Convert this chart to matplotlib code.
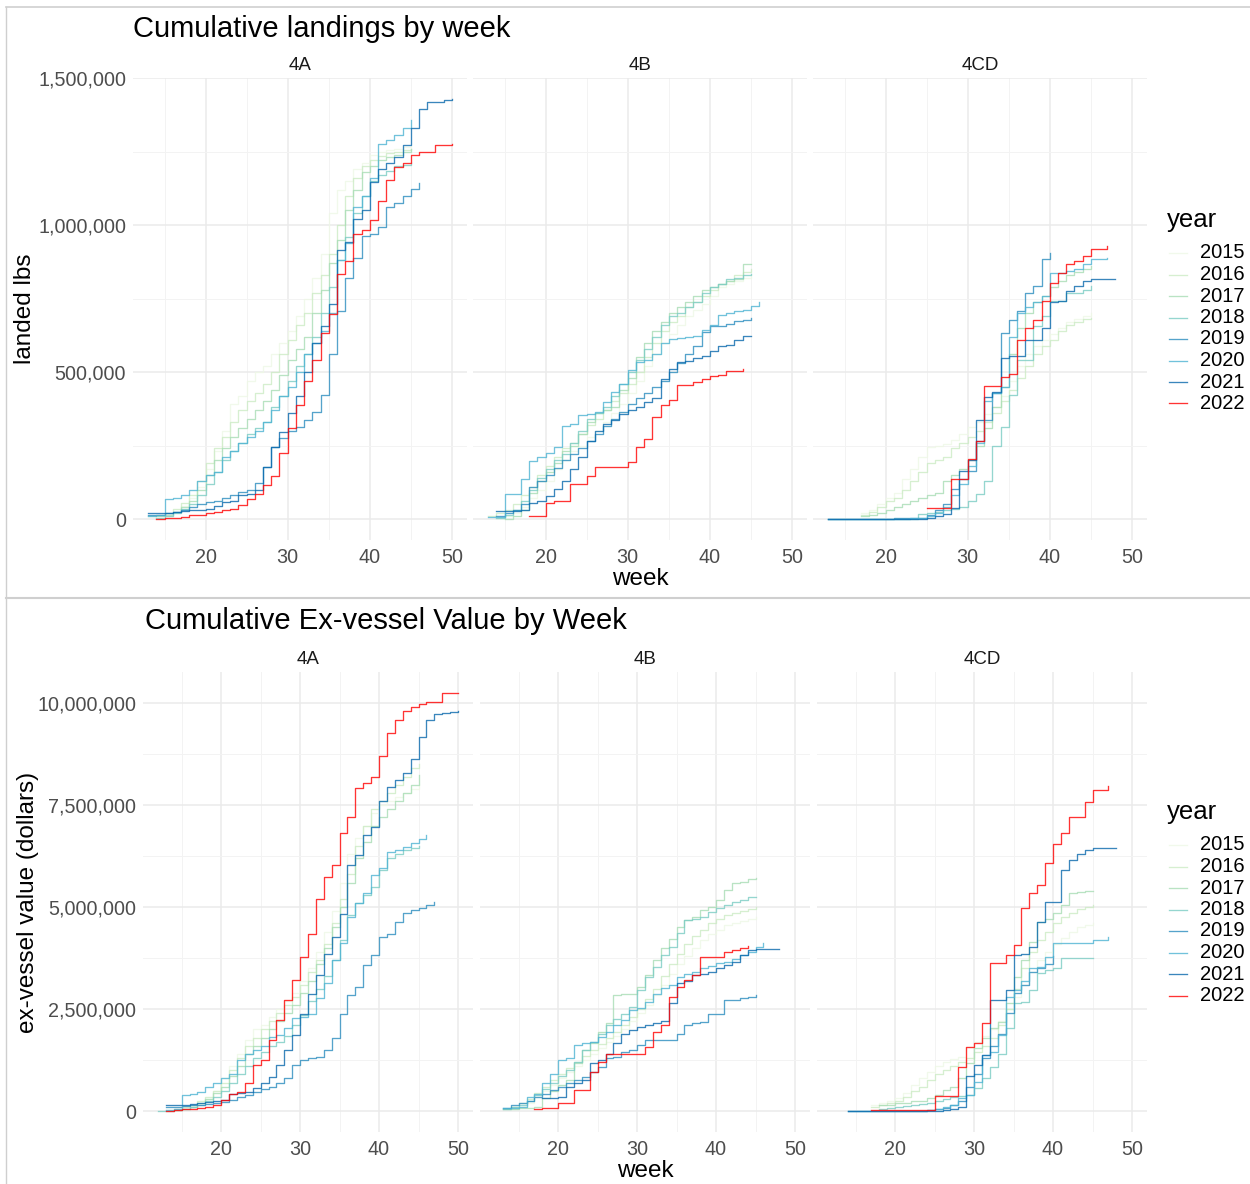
import numpy as np
import matplotlib
matplotlib.use("Agg")
import matplotlib.pyplot as plt
from matplotlib.ticker import FuncFormatter, MultipleLocator
from matplotlib.lines import Line2D

plt.rcParams['font.family'] = ['Liberation Sans', 'DejaVu Sans']

W, H = 1250, 1184

years = [2015, 2016, 2017, 2018, 2019, 2020, 2021, 2022]
year_colors = ['#eef8e6', '#ccebc5', '#a8ddb5', '#7bccc4',
               '#2b8cbe', '#4eb3d3', '#0868ac', '#ff0000']
regions = ["4A", "4B", "4CD"]

# ----------------------------------------------------------------
# Cumulative landings (thousand lbs) -> {year: (first week, weekly values)}
# ----------------------------------------------------------------
lbs_4A = {
    2015: (14, [5, 10, 25, 45, 70, 110, 170, 230, 300, 390, 420, 470, 500, 520, 560, 600, 640, 690, 750, 820,
                900, 1040, 1120, 1150, 1190, 1210, 1240, 1250, 1255, 1260, 1265, 1270]),
    2016: (13, [10, 15, 20, 35, 55, 80, 130, 190, 240, 280, 330, 370, 400, 430, 460, 500, 560, 610, 660, 700,
                770, 830, 900, 1000, 1100, 1160, 1200, 1220, 1235, 1245, 1250, 1255, 1260]),
    2017: (14, [10, 15, 25, 40, 60, 100, 150, 200, 240, 280, 310, 340, 370, 400, 440, 490, 540, 580, 620, 700,
                780, 870, 950, 1050, 1120, 1180, 1200, 1220, 1230, 1240, 1250, 1260]),
    2018: (14, [5, 10, 20, 35, 50, 80, 120, 160, 200, 230, 260, 290, 310, 330, 380, 420, 470, 520, 560, 620,
                700, 790, 880, 960, 1040, 1100, 1150, 1170, 1185, 1200, 1205, 1210]),
    2019: (13, [15, 15, 20, 25, 30, 40, 50, 57, 60, 70, 80, 91, 97, 123, 177, 245, 274, 299, 314, 337,
                365, 422, 562, 708, 820, 887, 964, 968, 993, 1062, 1075, 1098, 1124, 1142]),
    2020: (13, [10, 15, 68, 70, 80, 100, 130, 150, 160, 210, 230, 260, 280, 300, 330, 370, 420, 450, 500, 560,
                600, 640, 700, 880, 940, 1060, 1100, 1160, 1276, 1290, 1307, 1330, 1358]),
    2021: (13, [20, 20, 22, 25, 28, 30, 32, 34, 45, 57, 60, 80, 85, 97, 177, 245, 297, 360, 420, 500,
                600, 656, 730, 915, 944, 1022, 1050, 1146, 1190, 1210, 1230, 1273, 1332, 1395, 1419, 1420,
                1425, 1429]),
    2022: (14, [0, 2, 5, 8, 12, 15, 20, 25, 30, 34, 46, 68, 86, 114, 148, 223, 308, 388, 468, 542,
                634, 699, 833, 879, 970, 982, 1016, 1081, 1153, 1198, 1210, 1238, 1250, 1250, 1273, 1273, 1275]),
}
lbs_4B = {
    2015: (14, [5, 10, 20, 40, 70, 100, 130, 170, 200, 230, 250, 280, 300, 330, 360, 390, 430, 470, 520, 560,
                600, 630, 660, 690, 710, 730, 760, 790, 800, 810, 820, 830]),
    2016: (13, [10, 20, 30, 50, 80, 110, 150, 180, 210, 240, 260, 290, 320, 340, 370, 400, 430, 460, 500, 550,
                600, 640, 670, 690, 720, 740, 760, 780, 800, 810, 830, 840, 850]),
    2017: (15, [0, 10, 30, 90, 130, 160, 190, 230, 250, 290, 330, 360, 370, 380, 440, 480, 550, 600, 640, 670,
                700, 720, 740, 760, 780, 790, 800, 810, 815, 866, 866]),
    2018: (14, [5, 15, 30, 60, 100, 140, 170, 200, 220, 260, 300, 340, 360, 380, 420, 460, 500, 540, 580, 620,
                660, 690, 700, 720, 740, 770, 790, 800, 815, 820, 830, 835]),
    2019: (14, [10, 20, 30, 50, 110, 130, 150, 175, 200, 220, 240, 265, 290, 315, 340, 365, 390, 410, 430, 450,
                470, 500, 530, 560, 587, 635, 655, 655, 665, 672, 678, 684]),
    2020: (13, [7, 7, 84, 84, 136, 199, 210, 225, 244, 318, 322, 353, 358, 365, 398, 433, 461, 507, 535, 540,
                560, 600, 612, 615, 618, 621, 644, 661, 695, 700, 707, 712, 724, 738]),
    2021: (14, [27, 27, 27, 30, 56, 60, 79, 102, 130, 170, 210, 267, 301, 324, 336, 358, 370, 381, 398, 410,
                478, 512, 535, 538, 547, 555, 570, 587, 592, 610, 621, 623]),
    2022: (18, [10, 10, 56, 62, 62, 119, 119, 147, 176, 176, 176, 176, 195, 244, 273, 347, 387, 404, 455, 455,
                467, 478, 486, 490, 505, 505, 512]),
}
lbs_4CD = {
    2015: (17, [20, 30, 50, 70, 90, 136, 170, 210, 244, 250, 256, 270, 290, 313, 330, 358, 380, 420, 470, 520,
                560, 590, 610, 630, 650, 670, 680, 690, 700]),
    2016: (17, [15, 25, 40, 62, 70, 100, 130, 160, 190, 200, 210, 240, 260, 280, 300, 330, 360, 400, 440, 480,
                520, 560, 590, 610, 640, 660, 670, 680, 684]),
    2017: (17, [10, 15, 20, 30, 40, 50, 60, 70, 80, 90, 130, 150, 170, 200, 250, 310, 380, 450, 560, 650,
                700, 740, 760, 790, 810, 830, 840, 850, 860]),
    2018: (13, [0, 0, 0, 0, 0, 0, 0, 0, 0, 0, 0, 16, 20, 25, 30, 35, 40, 60, 84, 130,
                250, 313, 421, 541, 541, 655, 690, 741, 741, 769, 769, 780, 792]),
    2019: (13, [0, 0, 0, 0, 0, 0, 0, 0, 2, 3, 4, 5, 15, 30, 50, 102, 136, 164, 267, 336,
                427, 632, 678, 707, 769, 792, 884, 906]),
    2020: (13, [0, 0, 0, 0, 0, 0, 0, 0, 0, 0, 2, 5, 10, 20, 40, 80, 120, 180, 260, 400,
                430, 450, 620, 700, 720, 740, 760, 838, 838, 844, 850, 866, 884, 886, 889]),
    2021: (13, [0, 0, 0, 0, 0, 0, 0, 0, 0, 0, 0, 0, 5, 10, 16, 39, 164, 200, 336, 415,
                433, 547, 553, 555, 610, 610, 650, 737, 741, 775, 792, 809, 817, 817, 817, 817]),
    2022: (25, [39, 39, 39, 136, 136, 204, 267, 452, 452, 484, 495, 610, 650, 678, 741, 804, 838, 866, 878, 895,
                918, 918, 929]),
}

# ----------------------------------------------------------------
# Cumulative ex-vessel value (million dollars)
# ----------------------------------------------------------------
usd_4A = {
    2015: (14, [0.02, 0.05, 0.1, 0.2, 0.3, 0.5, 0.8, 1.1, 1.4, 1.75, 2.0, 2.1, 2.3, 2.5, 2.7, 2.9, 3.2, 3.5,
                3.9, 4.4, 4.9, 5.6, 6.3, 6.7, 7.0, 7.3, 7.5, 7.6, 7.7, 7.8, 7.9, 8.0]),
    2016: (13, [0.02, 0.05, 0.1, 0.15, 0.25, 0.35, 0.5, 0.7, 1.0, 1.3, 1.6, 1.8, 2.0, 2.2, 2.4, 2.6, 2.8, 3.1,
                3.4, 3.7, 4.1, 4.6, 5.2, 5.8, 6.5, 7.0, 7.4, 7.6, 7.8, 8.0, 8.2, 8.4, 8.5]),
    2017: (14, [0.02, 0.05, 0.1, 0.2, 0.3, 0.45, 0.6, 0.85, 1.1, 1.4, 1.6, 1.8, 2.0, 2.2, 2.4, 2.6, 2.9, 3.2,
                3.6, 4.0, 4.5, 5.0, 5.6, 6.2, 6.6, 7.0, 7.2, 7.4, 7.6, 7.8, 8.0, 8.24]),
    2018: (12, [0, 0, 0.02, 0.05, 0.1, 0.15, 0.25, 0.35, 0.5, 0.7, 0.9, 1.1, 1.3, 1.45, 1.6, 1.7, 1.85, 2.1,
                2.35, 2.7, 3.0, 3.3, 3.7, 4.2, 4.8, 5.1, 5.3, 5.5, 5.9, 6.2, 6.3, 6.4, 6.45, 6.5]),
    2019: (13, [0.1, 0.1, 0.12, 0.14, 0.15, 0.18, 0.2, 0.23, 0.27, 0.35, 0.39, 0.47, 0.55, 0.6, 0.68, 0.8,
                1.13, 1.25, 1.29, 1.33, 1.5, 1.78, 2.39, 2.84, 3.05, 3.58, 3.82, 4.27, 4.35, 4.64, 4.85, 4.93,
                4.98, 5.05, 5.13]),
    2020: (13, [0.02, 0.05, 0.39, 0.42, 0.47, 0.6, 0.68, 0.8, 0.92, 1.25, 1.4, 1.5, 1.6, 1.82, 1.86, 2.03,
                2.27, 2.31, 2.39, 2.76, 3.13, 3.7, 4.11, 4.76, 5.09, 5.34, 5.78, 5.95, 6.36, 6.4, 6.48, 6.56,
                6.68, 6.76]),
    2021: (13, [0.15, 0.15, 0.15, 0.18, 0.2, 0.22, 0.25, 0.27, 0.42, 0.45, 0.47, 0.56, 0.68, 0.84, 1.13, 1.5,
                1.86, 2.39, 2.88, 3.33, 3.86, 4.27, 4.82, 6.03, 6.27, 6.76, 6.97, 7.61, 7.95, 8.11, 8.28, 8.62,
                9.17, 9.58, 9.74, 9.75, 9.78, 9.81]),
    2022: (13, [0, 0.02, 0.04, 0.04, 0.08, 0.1, 0.15, 0.27, 0.42, 0.47, 0.68, 1.13, 1.25, 1.74, 2.23, 2.72,
                3.21, 3.78, 4.34, 5.21, 5.74, 6.03, 6.82, 7.21, 7.91, 8.03, 8.19, 8.7, 9.26, 9.58, 9.81, 9.91,
                9.99, 10.02, 10.02, 10.25, 10.25, 10.25]),
}
usd_4B = {
    2015: (14, [0.05, 0.1, 0.2, 0.35, 0.5, 0.65, 0.8, 0.95, 1.1, 1.25, 1.4, 1.55, 1.7, 1.85, 2.0, 2.2, 2.4,
                2.6, 2.85, 3.1, 3.35, 3.6, 3.8, 4.0, 4.2, 4.35, 4.45, 4.55, 4.6, 4.65, 4.7, 4.75]),
    2016: (13, [0.05, 0.1, 0.2, 0.3, 0.45, 0.6, 0.75, 0.9, 1.05, 1.2, 1.35, 1.5, 1.65, 1.8, 1.95, 2.1, 2.3,
                2.5, 2.75, 3.0, 3.3, 3.6, 3.85, 4.1, 4.3, 4.45, 4.6, 4.7, 4.8, 4.85, 4.9, 4.95, 5.01]),
    2017: (13, [0.05, 0.05, 0.07, 0.07, 0.1, 0.31, 0.5, 0.64, 0.76, 1.17, 1.5, 1.66, 1.94, 2.15, 2.84, 2.86,
                2.88, 3.05, 3.33, 3.7, 3.99, 4.23, 4.52, 4.68, 4.75, 4.93, 5.0, 5.17, 5.42, 5.58, 5.62, 5.7,
                5.72]),
    2018: (13, [0.05, 0.1, 0.15, 0.25, 0.4, 0.55, 0.7, 0.85, 1.0, 1.2, 1.5, 1.7, 1.9, 2.1, 2.25, 2.39, 2.56,
                2.97, 3.29, 3.54, 3.82, 4.03, 4.36, 4.68, 4.72, 4.76, 4.89, 4.97, 5.05, 5.13, 5.17, 5.25, 5.25]),
    2019: (13, [0.07, 0.15, 0.19, 0.25, 0.35, 0.43, 0.52, 0.6, 0.68, 0.76, 0.84, 0.96, 1.09, 1.29, 1.33,
                1.45, 1.5, 1.62, 1.74, 1.74, 1.74, 1.74, 1.9, 2.11, 2.15, 2.19, 2.37, 2.39, 2.72, 2.72, 2.76,
                2.8, 2.84]),
    2020: (13, [0.07, 0.07, 0.11, 0.35, 0.43, 0.68, 0.92, 1.25, 1.29, 1.62, 1.66, 1.7, 1.82, 1.94, 2.11,
                2.23, 2.48, 2.52, 2.68, 2.88, 3.01, 3.09, 3.29, 3.35, 3.42, 3.5, 3.55, 3.62, 3.66, 3.74, 3.82,
                3.9, 4.03, 4.11]),
    2021: (18, [0.33, 0.33, 0.35, 0.6, 0.68, 0.76, 1.17, 1.25, 1.41, 1.66, 1.9, 1.99, 2.05, 2.11, 2.17, 2.21,
                2.64, 3.13, 3.2, 3.33, 3.37, 3.42, 3.5, 3.58, 3.66, 3.82, 3.95, 3.97, 3.97, 3.97, 3.97]),
    2022: (17, [0.04, 0.08, 0.08, 0.19, 0.19, 0.51, 0.51, 0.96, 1.21, 1.41, 1.41, 1.41, 1.41, 1.41, 1.58,
                1.94, 2.11, 2.8, 3.05, 3.21, 3.33, 3.78, 3.78, 3.78, 3.91, 3.95, 4.0, 4.05]),
}
usd_4CD = {
    2015: (17, [0.15, 0.19, 0.25, 0.31, 0.45, 0.64, 0.8, 0.96, 1.1, 1.21, 1.27, 1.33, 1.58, 1.7, 1.85, 2.0,
                2.2, 2.5, 2.8, 3.1, 3.4, 3.7, 3.9, 4.1, 4.25, 4.4, 4.5, 4.55, 4.6]),
    2016: (17, [0.1, 0.15, 0.2, 0.25, 0.35, 0.5, 0.6, 0.75, 0.9, 1.0, 1.1, 1.2, 1.3, 1.45, 1.6, 1.8, 2.1,
                2.5, 3.0, 3.5, 3.9, 4.2, 4.4, 4.6, 4.75, 4.85, 4.95, 5.0, 5.05]),
    2017: (18, [0.15, 0.15, 0.2, 0.2, 0.25, 0.25, 0.31, 0.4, 0.51, 0.6, 0.8, 1.17, 1.54, 1.8, 2.03, 2.19,
                2.64, 3.29, 3.7, 4.15, 4.64, 4.7, 4.85, 5.05, 5.34, 5.37, 5.4, 5.4]),
    2018: (18, [0.05, 0.07, 0.1, 0.12, 0.15, 0.17, 0.2, 0.25, 0.3, 0.35, 0.37, 0.39, 0.56, 0.8, 1.09, 1.41,
                2.03, 2.64, 2.68, 2.97, 3.38, 3.45, 3.5, 3.76, 3.76, 3.76, 3.76, 3.76]),
    2019: (14, [0, 0, 0, 0, 0, 0, 0, 0, 0, 0, 0.02, 0.05, 0.08, 0.15, 0.25, 0.6, 0.9, 1.3, 1.6, 1.9, 2.4,
                2.9, 3.1, 3.4, 3.5, 3.6, 3.8]),
    2020: (14, [0, 0, 0, 0, 0, 0, 0, 0, 0, 0, 0.02, 0.05, 0.1, 0.15, 0.31, 0.39, 0.72, 1.37, 1.45, 1.86,
                2.8, 2.97, 3.2, 3.5, 3.54, 3.78, 4.11, 4.11, 4.11, 4.11, 4.11, 4.2, 4.2, 4.27]),
    2021: (14, [0, 0, 0, 0, 0, 0, 0, 0, 0, 0, 0, 0, 0.02, 0.05, 0.11, 0.85, 1.13, 1.37, 2.72, 2.72, 2.97,
                3.82, 3.85, 4.03, 4.64, 5.13, 5.13, 5.91, 6.15, 6.3, 6.41, 6.45, 6.45, 6.45, 6.45]),
    2022: (17, [0.02, 0.02, 0.02, 0.02, 0.02, 0.02, 0.02, 0.02, 0.37, 0.37, 0.37, 1.09, 1.58, 1.66, 2.16,
                3.62, 3.62, 3.82, 4.07, 4.97, 5.35, 5.54, 6.07, 6.54, 6.81, 7.2, 7.2, 7.58, 7.87, 7.87, 7.97]),
}

fig = plt.figure(figsize=(W / 100, H / 100), dpi=100)


def fx(x):
    return x / W


def fy(y):
    return 1 - y / H


def draw_chart(panels, scale, lefts, top, width, height, title, title_x, title_y,
               ylabel, ylabel_x, ystep, strip_y, week_y, legend_top):
    # shared scales (ggplot style 5% expansion)
    starts = [s for p in panels for s, v in p.values()]
    ends = [s + len(v) - 1 for p in panels for s, v in p.values()]
    vmax = max(max(v) for p in panels for s, v in p.values()) * scale
    x0, x1 = min(starts), max(ends)
    xr = (x0 - 0.05 * (x1 - x0), x1 + 0.05 * (x1 - x0))
    yr = (-0.05 * vmax, 1.05 * vmax)

    for i, (region, data) in enumerate(zip(regions, panels)):
        ax = fig.add_axes([fx(lefts[i]), fy(top + height), fx(width), height / H])
        for yr_, col in zip(years, year_colors):
            start, vals = data[yr_]
            wk = start + np.arange(len(vals))
            ax.plot(wk, np.array(vals) * scale, drawstyle="steps-post",
                    color=col, lw=0.95, alpha=0.8)
        ax.set_xlim(*xr)
        ax.set_ylim(*yr)
        ax.xaxis.set_major_locator(MultipleLocator(10))
        ax.xaxis.set_minor_locator(MultipleLocator(5))
        ax.yaxis.set_major_locator(MultipleLocator(ystep))
        ax.yaxis.set_minor_locator(MultipleLocator(ystep / 2))
        ax.grid(which="major", color="#EBEBEB", lw=1.1)
        ax.grid(which="minor", color="#F3F3F3", lw=0.7)
        ax.set_axisbelow(True)
        for sp in ax.spines.values():
            sp.set_visible(False)
        ax.tick_params(which="both", length=0, labelsize=14.2, labelcolor="#4D4D4D")
        ax.tick_params(axis="x", pad=6)
        ax.tick_params(axis="y", pad=5)
        ax.yaxis.set_major_formatter(FuncFormatter(lambda v, p: f"{v:,.0f}"))
        if i > 0:
            ax.tick_params(axis="y", labelleft=False)
        fig.text(fx(lefts[i] + width / 2), fy(strip_y), region, ha="center", va="center",
                 fontsize=13.5, color="#1A1A1A")

    fig.text(fx(title_x), fy(title_y), title, ha="left", va="center", fontsize=21, color="black")
    fig.text(fx(ylabel_x), fy(top + height / 2), ylabel, ha="center", va="center",
             rotation=90, fontsize=17.5, color="black")
    mid = (lefts[0] + lefts[-1] + width) / 2
    fig.text(fx(mid), fy(week_y), "week", ha="center", va="center", fontsize=17.5, color="black")

    # legend
    fig.text(fx(1167), fy(legend_top), "year", ha="left", va="center", fontsize=18.5, color="black")
    for k, (yr_, col) in enumerate(zip(years, year_colors)):
        yy = legend_top + 33 + k * 21.5
        fig.add_artist(Line2D([fx(1169), fx(1187)], [fy(yy), fy(yy)], color=col, lw=0.95, alpha=0.8,
                              transform=fig.transFigure))
        fig.text(fx(1200), fy(yy), str(yr_), ha="left", va="center", fontsize=14.5, color="black")


draw_chart([lbs_4A, lbs_4B, lbs_4CD], 1000, [133, 473, 813], 78, 334, 462,
           "Cumulative landings by week", 133, 29, "landed lbs", 25, 500000, 66, 579, 220)
draw_chart([usd_4A, usd_4B, usd_4CD], 1e6, [143, 480, 817], 672, 330, 460,
           "Cumulative Ex-vessel Value by Week", 145, 621, "ex-vessel value (dollars)", 28, 2500000,
           659, 1171, 812)

# screenshot frame lines
frame = "#CFCFCF"
fig.add_artist(Line2D([fx(6), fx(1250)], [fy(7), fy(7)], color=frame, lw=1.2, transform=fig.transFigure))
fig.add_artist(Line2D([fx(6), fx(1250)], [fy(598), fy(598)], color=frame, lw=1.5, transform=fig.transFigure))
fig.add_artist(Line2D([fx(6), fx(6)], [fy(7), fy(1184)], color=frame, lw=1.0, transform=fig.transFigure))

fig.savefig("out.png", dpi=100)
